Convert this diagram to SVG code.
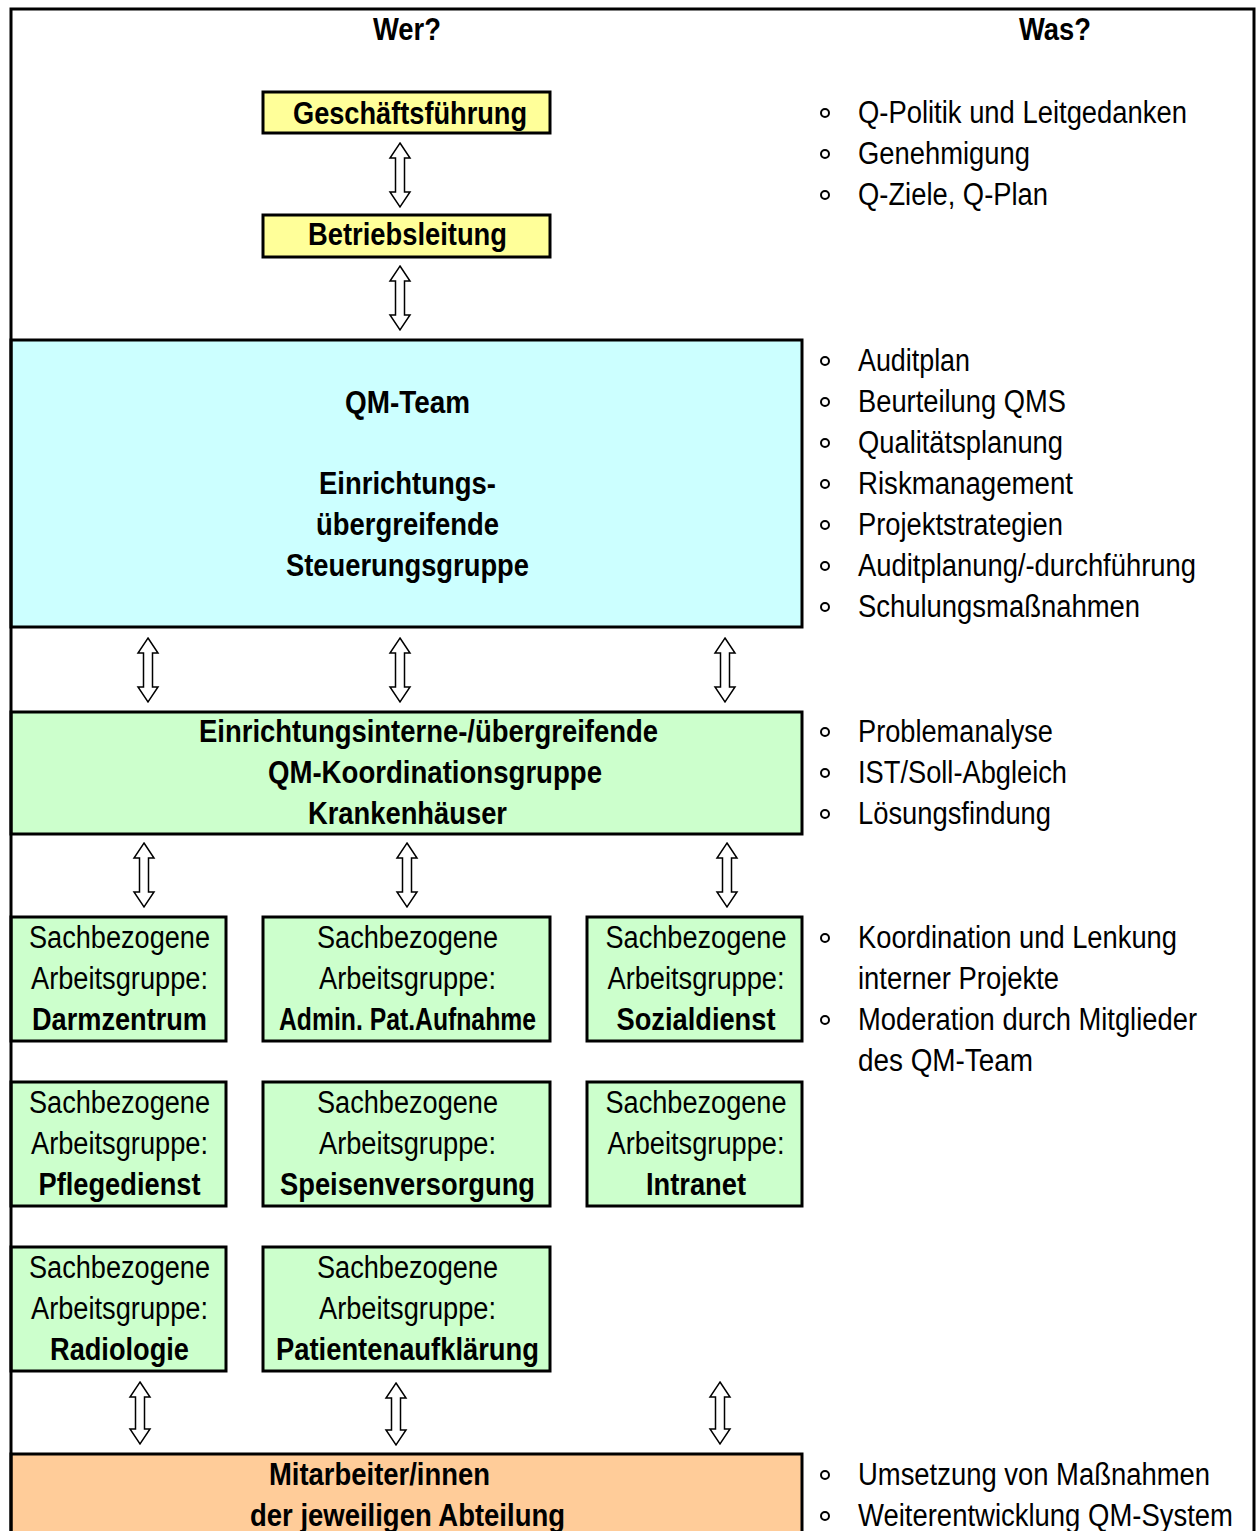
<svg xmlns="http://www.w3.org/2000/svg" width="1257" height="1531" viewBox="0 0 1257 1531">
<defs>
<style>
text{font-family:"Liberation Sans Narrow","Arial Narrow","Liberation Sans",Arial,sans-serif;font-size:31px;fill:#000}
.b{font-weight:bold}
.c{text-anchor:middle}
.box{stroke:#000;stroke-width:3}
.y{fill:#FFFF99}.cy{fill:#CCFFFF}.g{fill:#CCFFCC}.o{fill:#FFCC99}
.blt{fill:none;stroke:#000;stroke-width:2}
.arr{fill:#fff;stroke:#000;stroke-width:1.5;stroke-linejoin:miter}
</style>
<path id="a64" class="arr" d="M0,0 L10,15 L4.5,15 L4.5,49 L10,49 L0,64 L-10,49 L-4.5,49 L-4.5,15 L-10,15 Z"/>
<path id="a62" class="arr" d="M0,0 L10,15 L4.5,15 L4.5,47 L10,47 L0,62 L-10,47 L-4.5,47 L-4.5,15 L-10,15 Z"/>
</defs>
<rect width="1257" height="1531" fill="#fff"/>

<g id="headers">
<text class="b c" x="407" y="40" textLength="68" lengthAdjust="spacingAndGlyphs">Wer?</text>
<text class="b c" x="1055" y="40" textLength="72" lengthAdjust="spacingAndGlyphs">Was?</text>
</g>

<g id="geschaeftsfuehrung">
<rect class="box y" x="263" y="92" width="287" height="41"/>
<text class="b" x="293" y="124" textLength="234" lengthAdjust="spacingAndGlyphs">Geschäftsführung</text>
</g>
<g id="betriebsleitung">
<rect class="box y" x="263" y="215" width="287" height="42"/>
<text class="b" x="308" y="245" textLength="199" lengthAdjust="spacingAndGlyphs">Betriebsleitung</text>
</g>

<g id="qm-team">
<rect class="box cy" x="11" y="340" width="791" height="287"/>
<text class="b c" x="407.5" y="413" textLength="125" lengthAdjust="spacingAndGlyphs">QM-Team</text>
<text class="b c" x="407.5" y="494" textLength="177" lengthAdjust="spacingAndGlyphs">Einrichtungs-</text>
<text class="b c" x="407.5" y="535" textLength="183" lengthAdjust="spacingAndGlyphs">übergreifende</text>
<text class="b c" x="407.5" y="576" textLength="243" lengthAdjust="spacingAndGlyphs">Steuerungsgruppe</text>
</g>

<g id="koordinationsgruppe">
<rect class="box g" x="11" y="712" width="791" height="122"/>
<text class="b" x="199" y="742" textLength="459" lengthAdjust="spacingAndGlyphs">Einrichtungsinterne-/übergreifende</text>
<text class="b" x="268" y="783" textLength="334" lengthAdjust="spacingAndGlyphs">QM-Koordinationsgruppe</text>
<text class="b" x="308" y="824" textLength="199" lengthAdjust="spacingAndGlyphs">Krankenhäuser</text>
</g>

<g id="ag-darmzentrum">
<rect class="box g" x="11" y="917" width="215" height="124"/>
<text class="c" x="119.5" y="948" textLength="181" lengthAdjust="spacingAndGlyphs">Sachbezogene</text>
<text class="c" x="119.5" y="989" textLength="177" lengthAdjust="spacingAndGlyphs">Arbeitsgruppe:</text>
<text class="b c" x="119.5" y="1030" textLength="175" lengthAdjust="spacingAndGlyphs">Darmzentrum</text>
</g>
<g id="ag-admin">
<rect class="box g" x="263" y="917" width="287" height="124"/>
<text class="c" x="407.5" y="948" textLength="181" lengthAdjust="spacingAndGlyphs">Sachbezogene</text>
<text class="c" x="407.5" y="989" textLength="177" lengthAdjust="spacingAndGlyphs">Arbeitsgruppe:</text>
<text class="b c" x="407.5" y="1030" textLength="257" lengthAdjust="spacingAndGlyphs">Admin. Pat.Aufnahme</text>
</g>
<g id="ag-sozialdienst">
<rect class="box g" x="587" y="917" width="215" height="124"/>
<text class="c" x="696" y="948" textLength="181" lengthAdjust="spacingAndGlyphs">Sachbezogene</text>
<text class="c" x="696" y="989" textLength="177" lengthAdjust="spacingAndGlyphs">Arbeitsgruppe:</text>
<text class="b c" x="696" y="1030" textLength="159" lengthAdjust="spacingAndGlyphs">Sozialdienst</text>
</g>

<g id="ag-pflegedienst">
<rect class="box g" x="11" y="1082" width="215" height="124"/>
<text class="c" x="119.5" y="1113" textLength="181" lengthAdjust="spacingAndGlyphs">Sachbezogene</text>
<text class="c" x="119.5" y="1154" textLength="177" lengthAdjust="spacingAndGlyphs">Arbeitsgruppe:</text>
<text class="b c" x="119.5" y="1195" textLength="162" lengthAdjust="spacingAndGlyphs">Pflegedienst</text>
</g>
<g id="ag-speisenversorgung">
<rect class="box g" x="263" y="1082" width="287" height="124"/>
<text class="c" x="407.5" y="1113" textLength="181" lengthAdjust="spacingAndGlyphs">Sachbezogene</text>
<text class="c" x="407.5" y="1154" textLength="177" lengthAdjust="spacingAndGlyphs">Arbeitsgruppe:</text>
<text class="b c" x="407.5" y="1195" textLength="255" lengthAdjust="spacingAndGlyphs">Speisenversorgung</text>
</g>
<g id="ag-intranet">
<rect class="box g" x="587" y="1082" width="215" height="124"/>
<text class="c" x="696" y="1113" textLength="181" lengthAdjust="spacingAndGlyphs">Sachbezogene</text>
<text class="c" x="696" y="1154" textLength="177" lengthAdjust="spacingAndGlyphs">Arbeitsgruppe:</text>
<text class="b c" x="696" y="1195" textLength="100" lengthAdjust="spacingAndGlyphs">Intranet</text>
</g>

<g id="ag-radiologie">
<rect class="box g" x="11" y="1247" width="215" height="124"/>
<text class="c" x="119.5" y="1278" textLength="181" lengthAdjust="spacingAndGlyphs">Sachbezogene</text>
<text class="c" x="119.5" y="1319" textLength="177" lengthAdjust="spacingAndGlyphs">Arbeitsgruppe:</text>
<text class="b c" x="119.5" y="1360" textLength="139" lengthAdjust="spacingAndGlyphs">Radiologie</text>
</g>
<g id="ag-patientenaufklaerung">
<rect class="box g" x="263" y="1247" width="287" height="124"/>
<text class="c" x="407.5" y="1278" textLength="181" lengthAdjust="spacingAndGlyphs">Sachbezogene</text>
<text class="c" x="407.5" y="1319" textLength="177" lengthAdjust="spacingAndGlyphs">Arbeitsgruppe:</text>
<text class="b c" x="407.5" y="1360" textLength="263" lengthAdjust="spacingAndGlyphs">Patientenaufklärung</text>
</g>

<g id="mitarbeiter">
<rect class="box o" x="11" y="1454" width="791" height="100"/>
<text class="b c" x="379.5" y="1485" textLength="221" lengthAdjust="spacingAndGlyphs">Mitarbeiter/innen</text>
<text class="b c" x="407.5" y="1526" textLength="315" lengthAdjust="spacingAndGlyphs">der jeweiligen Abteilung</text>
</g>

<g id="connectors">
<use href="#a64" x="400" y="143"/>
<use href="#a64" x="400" y="266"/>
<use href="#a64" x="148" y="638"/>
<use href="#a64" x="400" y="638"/>
<use href="#a64" x="725" y="638"/>
<use href="#a64" x="144" y="843"/>
<use href="#a64" x="407" y="843"/>
<use href="#a64" x="727" y="843"/>
<use href="#a62" x="140" y="1382"/>
<use href="#a62" x="396" y="1383"/>
<use href="#a62" x="720" y="1382"/>
</g>

<g id="was-list">
<circle class="blt" cx="825" cy="113" r="4"/><text x="858" y="123" textLength="329" lengthAdjust="spacingAndGlyphs">Q-Politik und Leitgedanken</text>
<circle class="blt" cx="825" cy="154" r="4"/><text x="858" y="164" textLength="172" lengthAdjust="spacingAndGlyphs">Genehmigung</text>
<circle class="blt" cx="825" cy="195" r="4"/><text x="858" y="205" textLength="190" lengthAdjust="spacingAndGlyphs">Q-Ziele, Q-Plan</text>

<circle class="blt" cx="825" cy="361" r="4"/><text x="858" y="371" textLength="112" lengthAdjust="spacingAndGlyphs">Auditplan</text>
<circle class="blt" cx="825" cy="402" r="4"/><text x="858" y="412" textLength="208" lengthAdjust="spacingAndGlyphs">Beurteilung QMS</text>
<circle class="blt" cx="825" cy="443" r="4"/><text x="858" y="453" textLength="205" lengthAdjust="spacingAndGlyphs">Qualitätsplanung</text>
<circle class="blt" cx="825" cy="484" r="4"/><text x="858" y="494" textLength="215" lengthAdjust="spacingAndGlyphs">Riskmanagement</text>
<circle class="blt" cx="825" cy="525" r="4"/><text x="858" y="535" textLength="205" lengthAdjust="spacingAndGlyphs">Projektstrategien</text>
<circle class="blt" cx="825" cy="566" r="4"/><text x="858" y="576" textLength="338" lengthAdjust="spacingAndGlyphs">Auditplanung/-durchführung</text>
<circle class="blt" cx="825" cy="607" r="4"/><text x="858" y="617" textLength="282" lengthAdjust="spacingAndGlyphs">Schulungsmaßnahmen</text>

<circle class="blt" cx="825" cy="732" r="4"/><text x="858" y="742" textLength="195" lengthAdjust="spacingAndGlyphs">Problemanalyse</text>
<circle class="blt" cx="825" cy="773" r="4"/><text x="858" y="783" textLength="209" lengthAdjust="spacingAndGlyphs">IST/Soll-Abgleich</text>
<circle class="blt" cx="825" cy="814" r="4"/><text x="858" y="824" textLength="193" lengthAdjust="spacingAndGlyphs">Lösungsfindung</text>

<circle class="blt" cx="825" cy="938" r="4"/><text x="858" y="948" textLength="319" lengthAdjust="spacingAndGlyphs">Koordination und Lenkung</text>
<text x="858" y="989" textLength="201" lengthAdjust="spacingAndGlyphs">interner Projekte</text>
<circle class="blt" cx="825" cy="1020" r="4"/><text x="858" y="1030" textLength="339" lengthAdjust="spacingAndGlyphs">Moderation durch Mitglieder</text>
<text x="858" y="1071" textLength="175" lengthAdjust="spacingAndGlyphs">des QM-Team</text>

<circle class="blt" cx="825" cy="1475" r="4"/><text x="858" y="1485" textLength="352" lengthAdjust="spacingAndGlyphs">Umsetzung von Maßnahmen</text>
<circle class="blt" cx="825" cy="1516" r="4"/><text x="858" y="1526" textLength="375" lengthAdjust="spacingAndGlyphs">Weiterentwicklung QM-System</text>
</g>

<g id="frame" fill="none" stroke="#000" stroke-width="3">
<path d="M11,1531 L11,9 L1254,9 L1254,1531"/>
</g>
</svg>
